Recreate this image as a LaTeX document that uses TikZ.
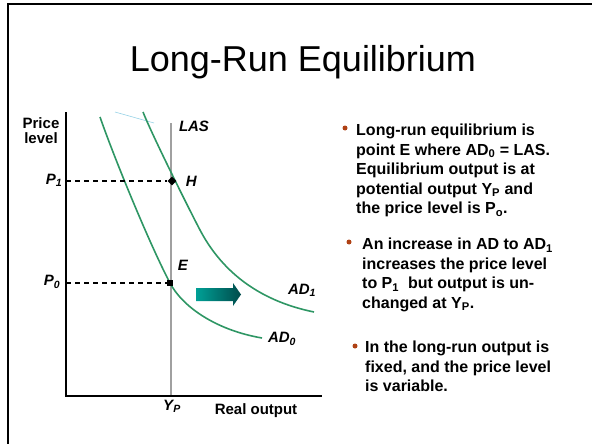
\documentclass[tikz,border=0pt]{standalone}
\usepackage{fontspec}
\setmainfont{Liberation Sans}
\usetikzlibrary{positioning,shapes.geometric}
\definecolor{adgreen}{RGB}{46,150,100}
\definecolor{lasgray}{RGB}{160,160,160}
\definecolor{bulletred}{RGB}{175,65,20}
\definecolor{tealL}{RGB}{0,160,150}
\definecolor{tealD}{RGB}{0,75,75}
\definecolor{stray}{RGB}{150,210,230}
\tikzset{
  axis/.style={line width=1.6pt,draw=black},
  curve/.style={line width=1.6pt,draw=adgreen},
  guide/.style={line width=1.2pt,dash pattern=on 5pt off 4pt,draw=black},
  lbl/.style={font=\fontsize{15}{15}\selectfont\bfseries\itshape,inner sep=0pt},
  axlbl/.style={font=\fontsize{15}{15}\selectfont\bfseries,inner sep=0pt,align=center},
  bultext/.style={align=left,anchor=north west,inner sep=0pt,font=\fontsize{16}{19.5}\selectfont\bfseries},
  bul/.style={circle,fill=bulletred,inner sep=0pt,minimum size=5pt}
}
\begin{document}
\begin{tikzpicture}[x=1pt,y=-1pt,
  point/.style={fill=black,inner sep=0pt,minimum size=6pt}
]
\useasboundingbox (0,0) rectangle (592,444);
% slide frame
\draw[line width=2pt] (8,444) -- (8,4) -- (592,4);
\node[font=\fontsize{36}{36}\selectfont,anchor=base] (title) at (303,72) {Long-Run Equilibrium};

% axes
\coordinate (O) at (66,396);
\coordinate (ytop) at (66,112);
\coordinate (xend) at (322,396);
\coordinate (lastop) at (171,123);
\coordinate (lasbot) at (171,396);
\draw[line width=2pt,draw=lasgray] (lastop) -- (lasbot);
\draw[axis] (ytop) -- (O) -- (xend);

% stray line
\draw[stray,line width=0.6pt] (115,112) -- (154,123);

% demand curves
\draw[curve] (100,117) .. controls (115,160) and (150,245) .. (170,283)
  .. controls (182,306) and (215,330) .. (262,338);
\draw[curve] (143,112) .. controls (153,137) and (190,211) .. (200,230)
  .. controls (220,268) and (255,300) .. (314,312);

% equilibria
\node[point,diamond,minimum size=9pt] (H) at (172,181) {};
\node[point] (E) at (170,283) {};
\coordinate (p1) at (66,181);
\coordinate (p0) at (66,283);
\draw[guide] (p1) -- (H);
\draw[guide] (p0) -- (E);

% shift arrow
\shade[left color=tealL,right color=tealD] (196,288) -- (233,288) -- (233,283)
  -- (241,294.5) -- (233,306) -- (233,301) -- (196,301) -- cycle;

% labels
\node[axlbl] (plevel) at (41,131) {Price\\level};
\node[lbl] (pone) at (54,180) {P\textsubscript{1}};
\node[lbl] (pzero) at (52,282) {P\textsubscript{0}};
\node[lbl] (las) at (194,126) {LAS};
\node[lbl,right=9pt of H] (hlab) {H};
\node[lbl] (elab) at (183,265) {E};
\node[lbl] (adone) at (302,290) {AD\textsubscript{1}};
\node[lbl] (adzero) at (282,339) {AD\textsubscript{0}};
\node[lbl] (yp) at (172,406) {Y\textsubscript{P}};
\node[axlbl] (rout) at (256,411) {Real output};

% bullet text
\node[bultext] (t1) at (356,124) {Long-run equilibrium is\\point E where AD\textsubscript{0} = LAS.\\Equilibrium output is at\\potential output Y\textsubscript{P} and\\the price level is P\textsubscript{o}.};
\node[bul] (b1) at (345,128) {};
\node[bultext] (t2) at (362,238) {An increase in AD to AD\textsubscript{1}\\increases the price level\\to P\textsubscript{1}\ \ but output is un-\\changed at Y\textsubscript{P}.};
\node[bul] (b2) at (349,242) {};
\node[bultext] (t3) at (365,341) {In the long-run output is\\fixed, and the price level\\is variable.};
\node[bul] (b3) at (355,346) {};
\end{tikzpicture}
\end{document}
